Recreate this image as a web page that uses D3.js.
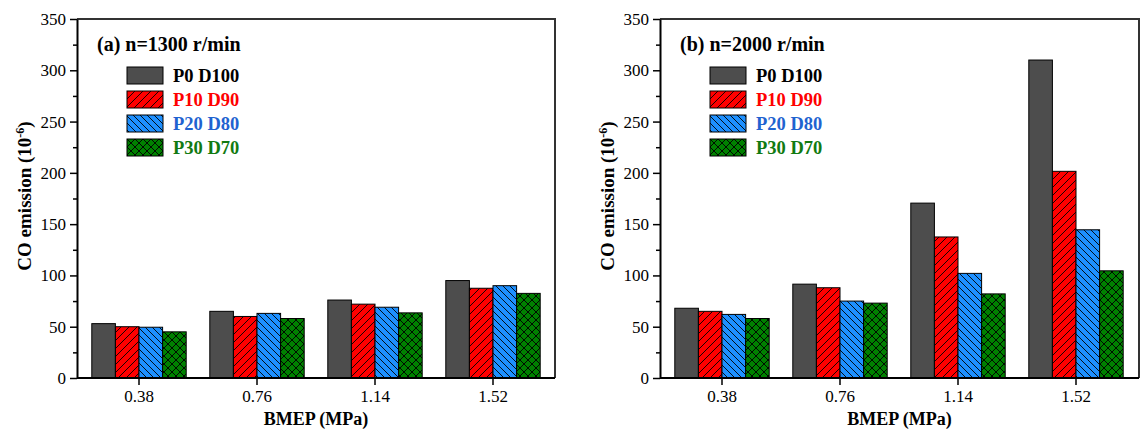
<!DOCTYPE html>
<html>
<head>
<meta charset="utf-8">
<script src="https://cdn.jsdelivr.net/npm/d3@7"></script>
<style>
  body { margin: 0; background: #fff; }
  svg text { font-family: "Liberation Serif", "Times New Roman", serif; }
</style>
</head>
<body>
<div id="chart"></div>
<script>
var categories = ["0.38", "0.76", "1.14", "1.52"];
var seriesNames = ["P0 D100", "P10 D90", "P20 D80", "P30 D70"];
var yTicks = [0, 50, 100, 150, 200, 250, 300, 350];

// CO emission (10^-6), one array per blend, per BMEP
var co1300_P0 = [53, 65, 76, 95];
var co1300_P10 = [50, 60, 72, 87.5];
var co1300_P20 = [49.5, 63, 69, 90];
var co1300_P30 = [45, 58, 63.5, 82.5];

var co2000_P0 = [68, 91.5, 170.5, 310];
var co2000_P10 = [65, 88, 137.5, 201.5];
var co2000_P20 = [62, 75, 102, 144.5];
var co2000_P30 = [58, 73, 82, 104.5];

var fills = ["#4d4d4d", "url(#hatchRed)", "url(#hatchBlue)", "url(#hatchGreen)"];
var textColors = ["#000000", "#ff0000", "#1f63d0", "#117a11"];

var svg = d3.select("#chart")
  .append("svg")
    .attr("width", 1143)
    .attr("height", 430);

var defs = svg.append("defs");

function hatch(id, bg, paths, size) {
    var p = defs.append("pattern")
        .attr("id", id)
        .attr("patternUnits", "userSpaceOnUse")
        .attr("width", size)
        .attr("height", size);
    p.append("rect").attr("width", size).attr("height", size).attr("fill", bg);
    paths.forEach(function(d) {
        p.append("path").attr("d", d)
            .attr("stroke", "#000").attr("stroke-width", 0.9).attr("fill", "none");
    });
}
hatch("hatchRed", "#ff0000", ["M0,8 L8,0", "M-2,2 L2,-2", "M6,10 L10,6"], 8);
hatch("hatchBlue", "#1e90ff", ["M0,0 L7,7", "M-2,5 L2,9", "M5,-2 L9,2"], 7);
hatch("hatchGreen", "#008000", ["M0,0 L8,8", "M0,8 L8,0"], 8);

function panel(opts) {
    var data = [opts.p0, opts.p10, opts.p20, opts.p30];

    var y = d3.scaleLinear().domain([0, 350]).range([378, 19]);
    var x = d3.scaleBand()
        .domain(categories)
        .range([opts.left + 3, opts.left + 475])
        .paddingInner(0.2)
        .paddingOuter(0.1);
    var xs = d3.scaleBand()
        .domain(seriesNames)
        .range([0, x.bandwidth()]);

    var g = svg.append("g");

    // bars
    seriesNames.forEach(function(s, i) {
        g.append("g")
            .selectAll("rect")
            .data(data[i])
            .enter()
            .append("rect")
                .attr("x", function(d, j) { return x(categories[j]) + xs(s); })
                .attr("y", function(d) { return y(d); })
                .attr("width", xs.bandwidth())
                .attr("height", function(d) { return y(0) - y(d); })
                .attr("fill", fills[i])
                .attr("stroke", "#000")
                .attr("stroke-width", 1);
    });

    // frame top/right
    g.append("path")
        .attr("d", "M" + opts.left + "," + y(350) + " H" + opts.right + " V" + y(0))
        .attr("fill", "none")
        .attr("stroke", "#333")
        .attr("stroke-width", 2);

    // y axis
    var minor = d3.range(25, 350, 50);
    g.append("g")
        .attr("transform", "translate(" + opts.left + ",0)")
        .call(d3.axisLeft(y).tickValues(minor).tickSize(4).tickFormat(""))
        .call(function(a) { a.select(".domain").remove(); a.selectAll("line").attr("stroke-width", 1.5); });
    var ya = g.append("g")
        .attr("transform", "translate(" + opts.left + ",0)")
        .call(d3.axisLeft(y).tickValues(yTicks).tickSize(7).tickPadding(4).tickSizeOuter(0));
    ya.select(".domain").attr("stroke-width", 2);
    ya.selectAll("line").attr("stroke-width", 1.5);
    ya.selectAll("text").attr("font-size", 17).attr("fill", "#000")
        .attr("font-family", "Liberation Serif");

    // x axis
    var xa = g.append("g")
        .attr("transform", "translate(0," + y(0) + ")")
        .call(d3.axisBottom(x).tickSize(7).tickPadding(5).tickSizeOuter(0));
    xa.select(".domain").attr("d", "M" + opts.left + ",0H" + opts.right).attr("stroke-width", 2);
    xa.selectAll("line").attr("stroke-width", 1.5);
    xa.selectAll("text").attr("font-size", 17).attr("fill", "#000")
        .attr("font-family", "Liberation Serif");

    // axis titles
    g.append("text")
        .attr("x", (opts.left + opts.right) / 2)
        .attr("y", 425)
        .attr("text-anchor", "middle")
        .attr("font-size", 18)
        .attr("font-weight", "bold")
        .text("BMEP (MPa)");

    var yt = g.append("text")
        .attr("transform", "translate(" + (opts.left - 46) + ",196) rotate(-90)")
        .attr("text-anchor", "middle")
        .attr("font-size", 19)
        .attr("font-weight", "bold");
    yt.append("tspan").text("CO emission (10");
    yt.append("tspan").attr("dy", -7).attr("font-size", 12).text("-6");
    yt.append("tspan").attr("dy", 7).text(")");

    // panel label
    g.append("text")
        .attr("x", opts.left + 20)
        .attr("y", 51)
        .attr("font-size", 20)
        .attr("font-weight", "bold")
        .text(opts.title);

    // legend
    var lg = g.append("g")
        .attr("transform", "translate(" + (opts.left + 50) + ",67)");
    seriesNames.forEach(function(s, i) {
        lg.append("rect")
            .attr("x", 0).attr("y", i * 24)
            .attr("width", 36).attr("height", 17)
            .attr("fill", fills[i])
            .attr("stroke", "#000").attr("stroke-width", 1);
        lg.append("text")
            .attr("x", 46).attr("y", i * 24 + 15)
            .attr("font-size", 18.5).attr("font-weight", "bold")
            .attr("fill", textColors[i])
            .text(s);
    });
}

panel({ left: 77, right: 555, title: "(a) n=1300 r/min",
        p0: co1300_P0, p10: co1300_P10, p20: co1300_P20, p30: co1300_P30 });
panel({ left: 660, right: 1139, title: "(b) n=2000 r/min",
        p0: co2000_P0, p10: co2000_P10, p20: co2000_P20, p30: co2000_P30 });
</script>
</body>
</html>
